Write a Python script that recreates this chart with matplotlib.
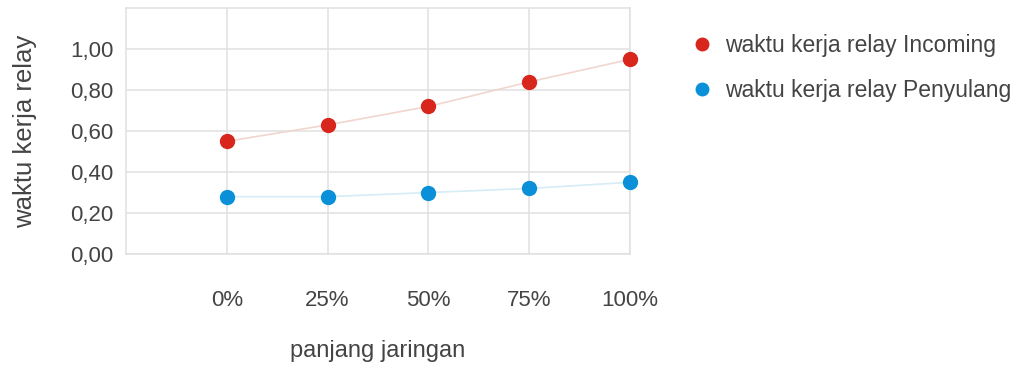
import matplotlib.pyplot as plt

# Data
categories = ['0%', '25%', '50%', '75%', '100%']
incoming = [0.55, 0.63, 0.72, 0.84, 0.95]
penyulang = [0.28, 0.28, 0.30, 0.32, 0.35]
y_ticks = [0.0, 0.2, 0.4, 0.6, 0.8, 1.0]
y_tick_labels = ['0,00', '0,20', '0,40', '0,60', '0,80', '1,00']

plt.rcParams['font.family'] = ['Liberation Sans', 'DejaVu Sans']

red = '#d8261d'
blue = '#0a90d8'
text_color = '#444444'
grid_color = '#e0e0e0'

fig = plt.figure(figsize=(10.25, 3.7), dpi=100)
ax = fig.add_axes([0.1229, 0.3135, 0.4917, 0.6645])

x = list(range(len(categories)))
ax.plot(x, incoming, color='#f0d6cf', linewidth=1.2, zorder=2)
ax.plot(x, penyulang, color='#d6ecf7', linewidth=1.2, zorder=2)
ax.plot(x, incoming, 'o', color=red, markersize=10, clip_on=False, zorder=3,
        label='waktu kerja relay Incoming')
ax.plot(x, penyulang, 'o', color=blue, markersize=10, clip_on=False, zorder=3,
        label='waktu kerja relay Penyulang')

ax.set_xlim(-1, 4)
ax.set_ylim(0, 1.2)
ax.set_xticks(x)
ax.set_xticklabels(categories)
ax.set_yticks(y_ticks)
ax.set_yticklabels(y_tick_labels)
ax.tick_params(axis='both', length=0, labelsize=16, colors=text_color)
ax.tick_params(axis='x', pad=26)
ax.tick_params(axis='y', pad=9)
ax.grid(True, color=grid_color, linewidth=1.1, zorder=0)
ax.set_axisbelow(True)
for s in ax.spines.values():
    s.set_color(grid_color)
    s.set_linewidth(1.1)

ax.set_xlabel('panjang jaringan', fontsize=17, color=text_color, labelpad=21)
ax.set_ylabel('waktu kerja relay', fontsize=18.5, color=text_color, labelpad=24)

fig.legend(loc='upper left', bbox_to_anchor=(0.656, 0.965), frameon=False,
           fontsize=16.5, handlelength=0.8, handletextpad=0.6, labelspacing=0.98,
           labelcolor=text_color, markerscale=0.9)

plt.savefig('out.png', dpi=100)
